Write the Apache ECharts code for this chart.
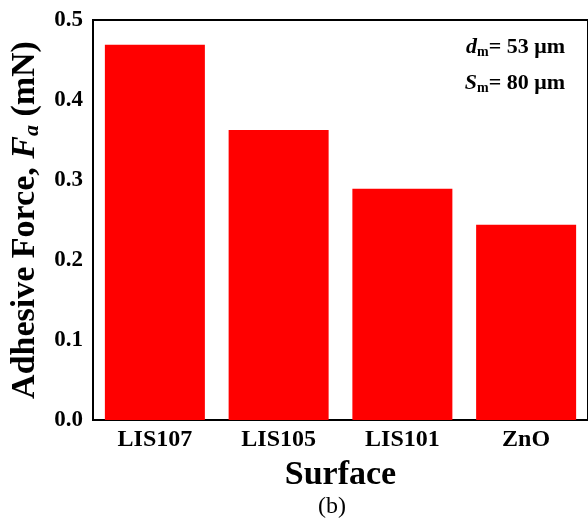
<!DOCTYPE html>
<html>
<head>
<meta charset="utf-8">
<script src="https://cdn.jsdelivr.net/npm/echarts@6/dist/echarts.min.js"></script>
<style>
  html, body { margin: 0; padding: 0; background: #fff; }
  #chart { width: 588px; height: 519px; }
</style>
</head>
<body>
<div id="chart"></div>
<script>
const categories = ["LIS107", "LIS105", "LIS101", "ZnO"];
const adhesiveForce = [0.469, 0.3625, 0.289, 0.244];
const yTicks = [0, 0.1, 0.2, 0.3, 0.4, 0.5];

const serif = "'Liberation Serif', 'Times New Roman', serif";
const chart = echarts.init(document.getElementById("chart"));

const annoRich = {
  n: { fontFamily: serif, fontWeight: "bold", fontSize: 22, fill: "#000" },
  i: { fontFamily: serif, fontWeight: "bold", fontStyle: "italic", fontSize: 22, fill: "#000" },
  s: { fontFamily: serif, fontWeight: "bold", fontSize: 14, fill: "#000", padding: [10, 0, 0, 0] }
};

chart.setOption({
  animation: false,
  grid: {
    left: 93,
    top: 20,
    width: 497,
    height: 400,
    show: true,
    borderColor: "#000",
    borderWidth: 2,
    backgroundColor: "#fff"
  },
  xAxis: {
    type: "category",
    data: categories,
    axisLine: { lineStyle: { color: "#000", width: 2 } },
    axisTick: { show: false },
    axisLabel: {
      margin: 8,
      fontFamily: serif,
      fontWeight: "bold",
      fontSize: 24,
      color: "#000"
    },
    name: "Surface",
    nameLocation: "middle",
    nameGap: 38,
    nameTextStyle: {
      fontFamily: serif,
      fontWeight: "bold",
      fontSize: 34,
      color: "#000"
    }
  },
  yAxis: {
    type: "value",
    min: 0,
    max: 0.5,
    interval: 0.1,
    splitLine: { show: false },
    axisLine: { show: true, lineStyle: { color: "#000", width: 2 } },
    axisTick: { show: false },
    axisLabel: {
      margin: 10,
      fontFamily: serif,
      fontWeight: "bold",
      fontSize: 23,
      color: "#000",
      formatter: v => yTicks.includes(Math.round(v * 10) / 10) ? v.toFixed(1) : ""
    },
    name: "{n|Adhesive Force, }{i|F}{s|a}{n| (mN)}",
    nameLocation: "middle",
    nameGap: 44,
    nameTextStyle: {
      rich: {
        n: { fontFamily: serif, fontWeight: "bold", fontSize: 34, color: "#000" },
        i: { fontFamily: serif, fontWeight: "bold", fontStyle: "italic", fontSize: 34, color: "#000" },
        s: { fontFamily: serif, fontWeight: "bold", fontStyle: "italic", fontSize: 22, color: "#000", padding: [14, 0, 0, 0] }
      }
    }
  },
  graphic: [
    {
      type: "text",
      right: 23,
      top: 36,
      style: { text: "{i|d}{s|m}{n|= 53 μm}", rich: annoRich }
    },
    {
      type: "text",
      right: 23,
      top: 72,
      style: { text: "{i|S}{s|m}{n|= 80 μm}", rich: annoRich }
    },
    {
      type: "text",
      left: 318,
      top: 495,
      style: {
        text: "(b)",
        fontFamily: serif,
        fontSize: 24,
        fill: "#000"
      }
    }
  ],
  series: [
    {
      type: "bar",
      data: adhesiveForce,
      barWidth: 100,
      itemStyle: { color: "#ff0000" }
    }
  ]
});
</script>
</body>
</html>
